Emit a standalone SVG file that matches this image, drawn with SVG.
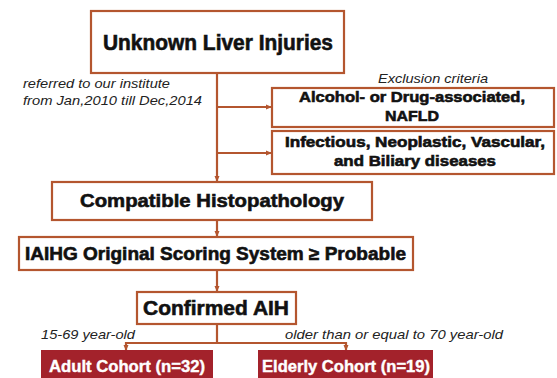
<svg xmlns="http://www.w3.org/2000/svg" width="557" height="378" viewBox="0 0 557 378">
<style>
.box{fill:#fff;stroke:#B4562F;stroke-width:2.2}
.cohort{fill:#A3222B;stroke:none}
.t{font-family:"Liberation Sans",Arial,sans-serif;font-weight:bold;fill:#111;stroke:#111;stroke-width:0.6;text-anchor:middle}
.w{font-family:"Liberation Sans",Arial,sans-serif;font-weight:bold;fill:#fff;stroke:#fff;stroke-width:0.4}
.i{font-family:"Liberation Sans",Arial,sans-serif;font-style:italic;fill:#222;font-size:13.5px}
.c{fill:none;stroke:#B4562F;stroke-width:2.2}
</style>
<defs>
<marker id="ah" markerWidth="6" markerHeight="6" refX="5" refY="3" orient="auto" markerUnits="userSpaceOnUse">
<path d="M0,0.5 L6,3 L0,5.5 Z" fill="#B4562F"/>
</marker>
</defs>
<rect width="557" height="378" fill="#fff"/>
<g id="connectors">
<path class="c" d="M217,73 V181" marker-end="url(#ah)"/>
<path class="c" d="M217,107 H271" marker-end="url(#ah)"/>
<path class="c" d="M217,153 H271" marker-end="url(#ah)"/>
<path class="c" d="M217,220 V236" marker-end="url(#ah)"/>
<path class="c" d="M217,270 V291" marker-end="url(#ah)"/>
<path class="c" d="M217,324 V343 M126,343 H346"/>
<path class="c" d="M126,342 V350" marker-end="url(#ah)"/>
<path class="c" d="M346,342 V350" marker-end="url(#ah)"/>
</g>
<g id="unknown">
<rect class="box" x="91" y="11" width="253" height="62"/>
<text class="t" x="218" y="50" font-size="22" textLength="230" lengthAdjust="spacingAndGlyphs">Unknown Liver Injuries</text>
</g>
<g id="referred-label">
<text class="i" x="23" y="88" textLength="147" lengthAdjust="spacingAndGlyphs">referred to our institute</text>
<text class="i" x="23" y="105" textLength="179" lengthAdjust="spacingAndGlyphs">from Jan,2010 till Dec,2014</text>
</g>
<g id="exclusion-label">
<text class="i" x="378" y="83" textLength="110" lengthAdjust="spacingAndGlyphs">Exclusion criteria</text>
</g>
<g id="alcohol">
<rect class="box" x="272" y="88" width="282" height="39"/>
<text class="t" x="412" y="102" font-size="15" textLength="226" lengthAdjust="spacingAndGlyphs">Alcohol- or Drug-associated,</text>
<text class="t" x="412" y="121" font-size="15" textLength="54" lengthAdjust="spacingAndGlyphs">NAFLD</text>
</g>
<g id="infectious">
<rect class="box" x="272" y="131" width="282" height="43"/>
<text class="t" x="415" y="147" font-size="15" textLength="260" lengthAdjust="spacingAndGlyphs">Infectious, Neoplastic, Vascular,</text>
<text class="t" x="415" y="166" font-size="15" textLength="162" lengthAdjust="spacingAndGlyphs">and Biliary diseases</text>
</g>
<g id="compatible">
<rect class="box" x="52" y="182" width="320" height="38"/>
<text class="t" x="212" y="207" font-size="19" textLength="264" lengthAdjust="spacingAndGlyphs">Compatible Histopathology</text>
</g>
<g id="iaihg">
<rect class="box" x="19" y="237" width="394" height="33"/>
<text class="t" x="215.5" y="260" font-size="18" textLength="381" lengthAdjust="spacingAndGlyphs">IAIHG Original Scoring System ≥ Probable</text>
</g>
<g id="confirmed">
<rect class="box" x="137" y="292" width="159" height="32"/>
<text class="t" x="216" y="315" font-size="21" textLength="146" lengthAdjust="spacingAndGlyphs">Confirmed AIH</text>
</g>
<g id="age-labels">
<text class="i" x="41" y="339" textLength="94" lengthAdjust="spacingAndGlyphs">15-69 year-old</text>
<text class="i" x="285" y="339" textLength="218" lengthAdjust="spacingAndGlyphs">older than or equal to 70 year-old</text>
</g>
<g id="adult">
<rect class="cohort" x="41" y="350" width="172" height="30"/>
<text class="w" x="49" y="372" font-size="16" textLength="156" lengthAdjust="spacingAndGlyphs">Adult Cohort (n=32)</text>
</g>
<g id="elderly">
<rect class="cohort" x="258" y="350" width="175" height="30"/>
<text class="w" x="262" y="372" font-size="16" textLength="168" lengthAdjust="spacingAndGlyphs">Elderly Cohort (n=19)</text>
</g>
</svg>
